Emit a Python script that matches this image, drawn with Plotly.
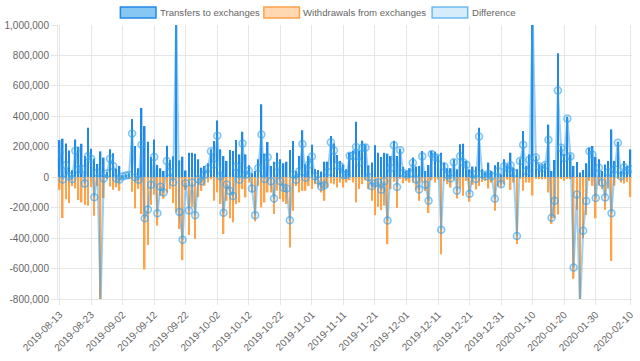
import pandas as pd
import plotly.graph_objects as go

start_date = "2019-08-13"
n_days = 182
dates = pd.date_range(start_date, periods=n_days, freq="D").strftime("%Y-%m-%d").tolist()

transfers = [
    244000, 253000, 222000, 176000, 46000, 248000, 200000, 220000, 139000, 325000,
    187000, 122000, 87000, 170000, 129000, 35000, 183000, 157000, 57000, 74000,
    13000, 15000, 24000, 383000, 205000, 59000, 455000, 336000, 233000, 133000,
    248000, 81000, 59000, 41000, 207000, 113000, 137000, 1300000, 111000, 135000,
    44000, 161000, 161000, 155000, 118000, 63000,
    74000, 92000, 183000, 238000, 373000, 183000, 139000, 107000, 179000, 172000,
    244000, 150000, 299000, 150000, 78000, 26000, 41000, 118000, 479000, 155000,
    231000, 74000, 102000, 161000, 118000, 92000, 102000, 179000, 238000, 41000,
    139000, 309000, 85000, 139000, 214000, 52000, 48000, 37000, 102000, 102000,
    270000, 222000, 146000, 107000, 83000,
    52000, 161000, 176000, 364000, 176000, 240000, 215000, 78000, 96000, 210000,
    161000, 133000, 160000, 155000, 139000, 240000, 139000, 187000, 68000, 41000,
    59000, 130000, 70000, 74000, 172000, 41000, 80000, 172000, 168000, 139000,
    161000, 96000, 59000, 59000, 118000, 52000, 216000, 220000, 107000, 52000,
    70000, 68000, 325000, 52000,
    31000, 96000, 41000, 78000, 100000, 20000, 118000, 74000, 161000, 63000,
    52000, 118000, 303000, 74000, 150000, 1200000, 139000, 85000, 74000, 92000,
    346000, 41000, 113000, 815000, 205000, 150000, 397000, 150000, 74000, 100000,
    31000, 48000, 92000, 194000, 205000, 133000, 118000, 41000, 83000, 107000,
    314000, 107000, 233000, 41000, 107000, 74000, 183000,
]

withdrawals = [
    -83000, -268000, -144000, -170000, -57000, -74000, -150000, -166000, -181000, -187000,
    -65000, -253000, -57000, -1000000, -137000, -10000, -61000, -83000, -66000, -89000,
    -9000, -4000, -9000, -96000, -205000, -76000, -242000, -606000, -445000, -183000,
    -115000, -318000, -122000, -141000, -100000, -78000, -170000, -231000, -340000, -545000,
    -83000, -379000, -196000, -405000, -131000, -90000,
    -57000, -35000, -13000, -155000, -100000, -176000, -373000, -155000, -270000, -296000,
    -176000, -166000, -78000, -133000, -35000, -100000, -290000, -57000, -198000, -166000,
    -100000, -100000, -242000, -89000, -144000, -161000, -176000, -462000, -220000, -57000,
    -100000, -90000, -89000, -57000, -78000, -46000, -68000, -100000, -155000, -68000,
    -40000, -46000, -68000, -35000, -68000,
    -35000, -20000, -35000, -166000, -78000, -46000, -20000, -78000, -155000, -250000,
    -194000, -216000, -187000, -440000, -78000, -30000, -203000, -10000, -40000, -25000,
    -35000, -35000, -85000, -155000, -35000, -90000, -235000, -20000, -35000, -15000,
    -506000, -25000, -46000, -68000, -20000, -140000, -78000, -122000, -25000, -161000,
    -50000, -80000, -57000, -32000,
    -24000, -74000, -35000, -220000, -61000, -66000, -46000, -15000, -83000, -35000,
    -438000, -12000, -89000, -35000, -35000, -120000, -10000, -13000, -15000, -12000,
    -100000, -307000, -268000, -245000, -12000, -24000, -12000, -13000, -667000, -214000,
    -900000, -400000, -248000, -24000, -57000, -270000, -55000, -78000, -216000, -74000,
    -550000, -55000, -6000, -35000, -41000, -30000, -130000,
]

difference = [
    161000, -15000, 78000, 6000, -11000, 174000, 50000, 54000, -42000, 138000,
    122000, -131000, 30000, -830000, -8000, 25000, 122000, 74000, -9000, -15000,
    4000, 11000, 15000, 287000, 0, -17000, 213000, -270000, -212000, -50000,
    133000, -237000, -63000, -100000, 107000, 35000, -33000, 1069000, -229000, -410000,
    -39000, -218000, -35000, -250000, -13000, -27000,
    17000, 57000, 170000, 83000, 273000, 7000, -234000, -48000, -91000, -124000,
    68000, -16000, 221000, 17000, 43000, -74000, -249000, 61000, 281000, -11000,
    131000, -26000, -140000, 72000, -26000, -69000, -74000, -283000, 18000, -16000,
    39000, 219000, -4000, 82000, 136000, 6000, -20000, -63000, -53000, 34000,
    230000, 176000, 78000, 72000, 15000,
    17000, 141000, 141000, 198000, 98000, 194000, 195000, 0, -59000, -40000,
    -33000, -83000, -27000, -285000, 61000, 210000, -64000, 177000, 28000, 16000,
    24000, 95000, -15000, -81000, 137000, -49000, -155000, 152000, 133000, 124000,
    -345000, 71000, 13000, -9000, 98000, -88000, 138000, 98000, 82000, -109000,
    20000, -12000, 268000, 20000,
    7000, 22000, 6000, -142000, 39000, -46000, 72000, 59000, 78000, 28000,
    -386000, 106000, 214000, 39000, 115000, 1080000, 129000, 72000, 59000, 80000,
    246000, -266000, -155000, 570000, 193000, 126000, 385000, 137000, -593000, -114000,
    -869000, -352000, -156000, 170000, 148000, -137000, 63000, -37000, -133000, 33000,
    -236000, 52000, 227000, 6000, 66000, 44000, 53000,
]

x_tick_labels = [
    "2019-08-13", "2019-08-23", "2019-09-02", "2019-09-12", "2019-09-22", "2019-10-02",
    "2019-10-12", "2019-10-22", "2019-11-01", "2019-11-11", "2019-11-21", "2019-12-01",
    "2019-12-11", "2019-12-21", "2019-12-31", "2020-01-10", "2020-01-20", "2020-01-30",
    "2020-02-10",
]
y_tick_values = [-800000, -600000, -400000, -200000, 0, 200000, 400000, 600000, 800000, 1000000]
y_tick_labels = ["-800,000", "-600,000", "-400,000", "-200,000", "0", "200,000",
                 "400,000", "600,000", "800,000", "1,000,000"]

series_names = ["Transfers to exchanges", "Withdrawals from exchanges", "Difference"]

FONT = "Liberation Sans, Arial, sans-serif"
GRID = "#e6e6e6"
TEXT = "#666666"

fig = go.Figure()
fig.add_trace(go.Bar(
    x=dates, y=transfers, name=series_names[0],
    marker=dict(color="#2288e6", line=dict(width=0)),
))
fig.add_trace(go.Bar(
    x=dates, y=withdrawals, name=series_names[1],
    marker=dict(color="#ffa24a", line=dict(width=0)),
))
fig.add_trace(go.Scatter(
    x=dates, y=difference, name=series_names[2], mode="lines+markers",
    line=dict(color="rgba(54,162,235,0.5)", width=2),
    marker=dict(size=7, color="rgba(54,162,235,0.15)",
                line=dict(color="rgba(54,162,235,0.6)", width=1.5)),
))

L, R, T, B = 56, 4, 25, 62
W, H = 640, 361
pw, ph = W - L - R, H - T - B

def px(xp):
    return (xp - L) / pw

def py(yp):
    return (H - B - yp) / ph

legend_items = [
    (119, series_names[0], "rgba(54,162,235,0.6)", "#2288e6"),
    (264, series_names[1], "rgba(255,166,79,0.45)", "#ffa24a"),
    (434, series_names[2], "rgba(54,162,235,0.2)", "rgba(54,162,235,0.7)"),
]
shapes = []
annotations = []
for x0, label, fill, border in legend_items:
    shapes.append(dict(type="rect", xref="paper", yref="paper",
                       x0=px(x0), x1=px(x0 + 36), y0=py(18), y1=py(7),
                       fillcolor=fill, line=dict(color=border, width=1.5)))
    annotations.append(dict(xref="paper", yref="paper", x=px(x0 + 38), y=py(12.5),
                            xanchor="left", yanchor="middle", text=label, showarrow=False,
                            font=dict(family=FONT, size=9.6, color=TEXT)))

fig.update_layout(
    width=W, height=H, autosize=False,
    margin=dict(l=L, r=R, t=T, b=B),
    paper_bgcolor="white", plot_bgcolor="white",
    barmode="relative", bargap=0.5,
    showlegend=False,
    shapes=shapes, annotations=annotations,
    font=dict(family=FONT, size=10, color=TEXT),
)
fig.update_xaxes(
    type="category", categoryorder="array", categoryarray=dates,
    tickmode="array", tickvals=x_tick_labels, ticktext=x_tick_labels,
    tickangle=-45, showgrid=True, gridcolor=GRID, gridwidth=1,
    ticks="outside", ticklen=5, tickcolor=GRID,
    showline=True, linecolor=GRID, linewidth=1,
    tickfont=dict(family=FONT, size=10, color=TEXT),
    range=[-0.5, n_days - 0.5],
)
fig.update_yaxes(
    range=[-800000, 1000000], tickmode="array",
    tickvals=y_tick_values, ticktext=y_tick_labels,
    showgrid=True, gridcolor=GRID, gridwidth=1,
    zeroline=True, zerolinecolor="#cfcfcf", zerolinewidth=1,
    ticks="outside", ticklen=6, tickcolor=GRID,
    showline=True, linecolor=GRID, linewidth=1,
    tickfont=dict(family=FONT, size=10, color=TEXT),
)

fig.write_html("out.html", config={"displayModeBar": False},
               post_script="document.body.style.margin='0';")
